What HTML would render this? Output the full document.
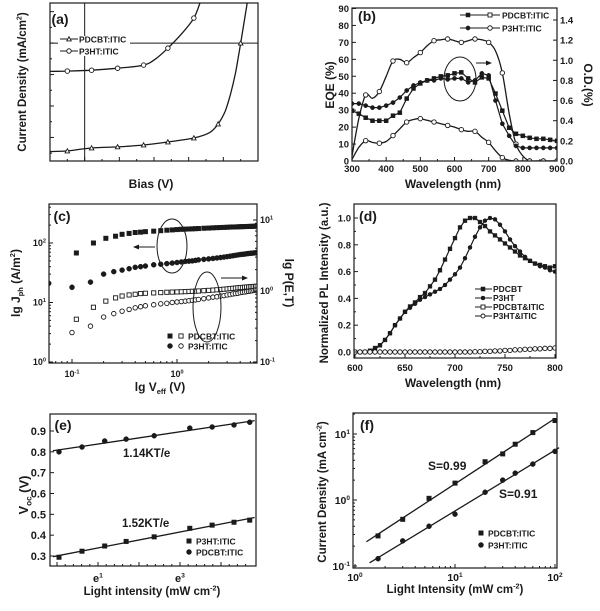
<!DOCTYPE html>
<html><head><meta charset="utf-8"><style>
html,body{margin:0;padding:0;background:#fff}
svg{display:block;font-family:"Liberation Sans",Arial,sans-serif;font-weight:bold}
</style></head><body>
<svg id="fig" xmlns="http://www.w3.org/2000/svg" width="600" height="611" viewBox="0 0 600 611"></svg>
<script>
// ---------- DATA ----------
// (a) J-V
const aBiasLineP3 = [-0.2,-0.1,0.04,0.19,0.34,0.41,0.48,0.56,0.63,0.67];
const aJLineP3    = [-3.6,-3.56,-3.45,-3.2,-2.8,-2.0,-0.64,1.2,3.18,5.4];
const aBiasMarkP3 = [-0.1,0.04,0.19,0.34,0.48,0.63];
const aJMarkP3    = [-3.56,-3.45,-3.2,-2.8,-0.64,3.18];
const aBiasLinePD = [-0.2,-0.1,0.04,0.19,0.34,0.48,0.63,0.72,0.77,0.81,0.84,0.87,0.9,0.94];
const aJLinePD    = [-13.8,-13.72,-13.34,-13.2,-12.96,-12.58,-12.07,-11.4,-10.29,-8.7,-6.6,-3.8,0,5.4];
const aBiasMarkPD = [-0.1,0.04,0.19,0.34,0.48,0.63,0.77,0.9];
const aJMarkPD    = [-13.72,-13.34,-13.2,-12.96,-12.58,-12.07,-10.29,0];
// (b) EQE / OD
const bWl   = [300,320,340,360,380,400,420,440,460,480,500,520,540,560,580,600,620,640,660,680,700,720,740,760,780,800,820,840,860,880,900];
const bEqePD= [3,25,39,37,41,50,59,60,58,61,64,68,71,71.5,72,71,70,71,72,71.5,70,65,52,28,10,3,0,0,0,0,0];
const bEqeP3= [1,8,12,11,10.5,11.5,15,19,23,24.5,25,24,23,22,21,20,18.5,17.5,17.5,14,11,6,2,0.5,0,0,0,0,0,0,0];
const bOdPD = [0.5,0.47,0.43,0.4,0.4,0.4,0.45,0.48,0.62,0.72,0.77,0.8,0.82,0.84,0.85,0.87,0.88,0.82,0.78,0.83,0.82,0.67,0.5,0.33,0.27,0.25,0.23,0.22,0.22,0.21,0.2];
const bOdP3 = [0.57,0.57,0.55,0.53,0.53,0.55,0.58,0.63,0.7,0.75,0.78,0.8,0.8,0.82,0.81,0.82,0.82,0.78,0.8,0.87,0.85,0.6,0.37,0.25,0.15,0.13,0.13,0.13,0.13,0.13,0.13];
// (c) Jph / P(E,T)
const cV    = [0.06,0.1,0.11,0.15,0.16,0.2,0.21,0.25,0.26,0.3,0.35,0.4,0.45,0.5,0.6,0.7,0.8,0.9,1.0,1.1,1.2,1.3,1.4,1.5,1.6,1.8,2.0,2.2,2.4,2.6,2.8,3.0,3.2,3.4,3.6,3.8,4.0,4.2,4.4,4.6,4.8,5.0,5.2,5.4,5.6,5.8];
const cJPD  = [null,null,68,null,100,null,120,null,130,140,145,150,152,155,158,161,164,166,168,170,171,172,173,174,175,177,178,180,181,182,183,184,185,186,186,187,188,188,189,189,190,190,191,191,192,192];
const cJP3  = [21,18,null,22,null,30,null,33,null,35,37,39,40,41,43,44,45,46,47,48,49,49.5,50,51,52,53,54,55,56,57,58,59,60,61,62,63,64,64.5,65,66,66.5,67,67.5,68,68.5,69];
const cPPD  = [null,null,0.40,null,0.59,null,0.72,null,0.8,0.85,0.88,0.9,0.92,0.93,0.94,0.95,0.96,0.965,0.97,0.975,0.98,0.985,0.99,0.995,1.0,1.01,1.02,1.03,1.04,1.05,1.06,1.07,1.08,1.09,1.1,1.11,1.12,1.12,1.13,1.14,1.14,1.15,1.15,1.16,1.16,1.17];
const cPP3  = [null,0.26,null,0.32,null,0.43,null,0.48,null,0.52,0.55,0.58,0.6,0.62,0.64,0.66,0.67,0.69,0.70,0.71,0.72,0.73,0.74,0.75,0.76,0.78,0.8,0.82,0.83,0.85,0.86,0.88,0.89,0.91,0.92,0.93,0.95,0.96,0.97,0.98,0.99,1.0,1.01,1.02,1.03,1.03];
// (d) PL
const dWl = [600,605,610,615,620,625,630,635,640,645,650,655,660,665,670,675,680,685,690,695,700,705,710,715,720,725,730,735,740,745,750,755,760,765,770,775,780,785,790,795,800];
const dPD = [0,0,0,0.01,0.03,0.05,0.09,0.14,0.2,0.25,0.3,0.34,0.37,0.41,0.44,0.49,0.54,0.61,0.69,0.77,0.85,0.93,0.98,1.0,1.0,0.97,0.94,0.9,0.87,0.84,0.81,0.78,0.75,0.72,0.7,0.68,0.66,0.65,0.64,0.63,0.64];
const dP3 = [0,0,0,0.01,0.02,0.05,0.09,0.14,0.2,0.25,0.3,0.33,0.36,0.39,0.41,0.43,0.45,0.47,0.5,0.54,0.58,0.63,0.7,0.78,0.86,0.93,0.98,1.0,0.99,0.95,0.9,0.84,0.79,0.75,0.71,0.68,0.66,0.64,0.63,0.61,0.6];
const dBlendWl = [600,610,620,630,640,650,660,670,680,690,700,710,720,730,740,750,760,770,780,790,800];
const dBlend   = [0,0,0,0,0,0,0,0,0,0,0,0,0.002,0.005,0.008,0.012,0.016,0.02,0.024,0.027,0.03];
// (e) Voc vs light
const eI    = [1.05,1.84,3.2,5.4,10.7,25.5,44,75,110];
const eVPD  = [0.80,0.823,0.852,0.861,0.877,0.914,0.919,0.929,0.942];
const eVP3  = [0.294,0.323,0.348,0.37,0.392,0.433,0.448,0.462,0.472];
const eYTicks = [0.3,0.4,0.5,0.6,0.7,0.8,0.9];
// (f) Jsc vs light
const fI    = [1.7,3,5.5,10,20,30,40,60,100];
const fJPD  = [0.286,0.51,1.06,1.8,3.8,5.0,7.0,10.5,16];
const fJP3  = [0.129,0.24,0.40,0.61,1.31,2.0,2.55,3.5,5.45];

// ---------- HELPERS ----------
const NS='http://www.w3.org/2000/svg';
const svg=document.getElementById('fig');
function el(tag,attrs,parent,name){
  const e=document.createElementNS(NS,tag);
  for(const k in attrs) e.setAttribute(k,attrs[k]);
  
  
  (parent||svg).appendChild(e); return e;
}
const lin=(d0,d1,r0,r1)=>v=>r0+(v-d0)/(d1-d0)*(r1-r0);
const lg=(d0,d1,r0,r1)=>{const a=Math.log10(d0),b=Math.log10(d1);return v=>r0+(Math.log10(v)-a)/(b-a)*(r1-r0);};
const C='#1a1a1a';
function frame(p,name){
  return el('rect',{x:p.x0,y:p.y0,width:p.x1-p.x0,height:p.y1-p.y0,fill:'none',stroke:C,'stroke-width':1.2},svg,name);
}
function clip(p,id){
  const cp=el('clipPath',{id:id},svg,id);
  el('rect',{x:p.x0,y:p.y0,width:p.x1-p.x0,height:p.y1-p.y0},cp,id+'-rect');
  return 'url(#'+id+')';
}
function tick(x1,y1,x2,y2,g,name){el('line',{x1,y1,x2,y2,stroke:C,'stroke-width':1},g,name);}
function txt(x,y,s,size,anchor,g,name,rot){
  const a={x,y,'font-size':size,'text-anchor':anchor||'middle',fill:C};
  if(rot) a.transform='rotate('+rot+' '+x+' '+y+')';
  const t=el('text',a,g,name); t.textContent=s; return t;
}
function rich(x,y,parts,size,anchor,g,name,rot){
  const a={x,y,'font-size':size,'text-anchor':anchor||'middle',fill:C};
  if(rot) a.transform='rotate('+rot+' '+x+' '+y+')';
  const t=el('text',a,g,name);
  parts.forEach(p=>{
    const s=el('tspan',{},t,name+'-part');
    if(p[1]==='sup'){s.setAttribute('font-size',size*0.62);s.setAttribute('dy',-size*0.4);}
    else if(p[1]==='sub'){s.setAttribute('font-size',size*0.62);s.setAttribute('dy',size*0.25);}
    else if(p[1]==='back'){s.setAttribute('dy',p[2]);}
    s.textContent=p[0];
  });
  return t;
}
function pow10(x,y,e,size,anchor,g,name){
  return rich(x,y,[['10'],[String(e),'sup']],size,anchor,g,name);
}
function marker(type,x,y,s,g,name){
  const open=type.startsWith('open');
  const fill=open?'#fff':C;
  const base=type.replace('open-','');
  if(base==='square') return el('rect',{x:x-s/2,y:y-s/2,width:s,height:s,fill,stroke:C,'stroke-width':open?0.9:0.5},g,name);
  if(base==='circle') return el('circle',{cx:x,cy:y,r:s/2,fill,stroke:C,'stroke-width':open?0.9:0.5},g,name);
  if(base==='triangle') return el('polygon',{points:`${x},${y-s/2} ${x-s/2},${y+s/2.3} ${x+s/2},${y+s/2.3}`,fill,stroke:C,'stroke-width':0.9},g,name);
}
function smooth(pts){
  let d='M'+pts[0][0].toFixed(1)+','+pts[0][1].toFixed(1);
  for(let i=0;i<pts.length-1;i++){
    const p0=pts[i-1]||pts[i],p1=pts[i],p2=pts[i+1],p3=pts[i+2]||pts[i+1];
    const c1=[p1[0]+(p2[0]-p0[0])/6,p1[1]+(p2[1]-p0[1])/6];
    const c2=[p2[0]-(p3[0]-p1[0])/6,p2[1]-(p3[1]-p1[1])/6];
    d+=` C${c1[0].toFixed(1)},${c1[1].toFixed(1)} ${c2[0].toFixed(1)},${c2[1].toFixed(1)} ${p2[0].toFixed(1)},${p2[1].toFixed(1)}`;
  }
  return d;
}
function curve(xs,ys,sx,sy,g,name,w){
  const pts=[];xs.forEach((v,i)=>{if(ys[i]!=null)pts.push([sx(v),sy(ys[i])]);});
  return el('path',{d:smooth(pts),fill:'none',stroke:C,'stroke-width':w||1.3},g,name);
}
function polyl(xs,ys,sx,sy,g,name,w){
  const pts=[];xs.forEach((v,i)=>{if(ys[i]!=null)pts.push(sx(v).toFixed(1)+','+sy(ys[i]).toFixed(1));});
  return el('polyline',{points:pts.join(' '),fill:'none',stroke:C,'stroke-width':w||1.2},g,name);
}
function marks(type,xs,ys,sx,sy,s,g,name){
  xs.forEach((v,i)=>{if(ys[i]!=null)marker(type,sx(v),sy(ys[i]),s,g,name);});
}
function logMinor(d0,d1,fn){
  for(let e=Math.floor(Math.log10(d0));e<=Math.ceil(Math.log10(d1));e++)
    for(let m=1;m<10;m++){const v=m*Math.pow(10,e);if(v>=d0&&v<=d1)fn(v,m===1);}
}

// ---------- PANEL A ----------
(function(){
  const P={x0:50,y0:3,x1:258,y1:161};
  const g=el('g',{},svg,'panel-a');
  const sx=lin(-0.2,1.0,P.x0,P.x1), sy=lin(-15,5.1,P.y1,P.y0);
  const cl=clip(P,'clip-a');
  const gg=el('g',{'clip-path':cl},g,'panel-a-plot');
  tick(sx(0),P.y0,sx(0),P.y1,gg,'zero-bias-line');
  tick(P.x0,sy(0),P.x1,sy(0),gg,'zero-current-line');
  for(let v=-0.2;v<=1.0001;v+=0.1){const x=sx(v);tick(x,P.y1,x,P.y1-(Math.round(v*10)%2===0?4:2),g,'x-tick');}
  for(let v=-14;v<=4;v+=2){const y=sy(v);tick(P.x0,y,P.x0+(v%4===0?4:2),y,g,'y-tick');}
  curve(aBiasLineP3,aJLineP3,sx,sy,gg,'p3ht-jv-curve');
  curve(aBiasLinePD,aJLinePD,sx,sy,gg,'pdcbt-jv-curve');
  marks('open-circle',aBiasMarkP3,aJMarkP3,sx,sy,4.5,gg,'p3ht-jv-point');
  marks('open-triangle',aBiasMarkPD,aJMarkPD,sx,sy,4.5,gg,'pdcbt-jv-point');
  frame(P,'panel-a-frame');
  el('rect',{x:58,y:36,width:72,height:20,fill:'#fff'},g,'legend-a-bg');
  tick(60,39,78,39,g,'legend-a-line');marker('open-triangle',69,39,4.5,g,'legend-a-marker');
  txt(79,42.5,'PDCBT:ITIC',8.5,'start',g,'legend-a-pdcbt');
  tick(60,51,78,51,g,'legend-a-line');marker('open-circle',69,51,4.5,g,'legend-a-marker');
  txt(79,54.5,'P3HT:ITIC',8.5,'start',g,'legend-a-p3ht');
  txt(60,24,'(a)',14,'middle',g,'panel-a-label');
  txt(151,188,'Bias (V)',12,'middle',g,'x-axis-title-a');
  rich(26,82,[['Current Density (mA/cm'],['2','sup'],[')','back',4.5]],11.5,'middle',g,'y-axis-title-a',-90);
})();

// ---------- PANEL B ----------
(function(){
  const P={x0:352,y0:8,x1:557,y1:161};
  const g=el('g',{},svg,'panel-b');
  const sx=lin(300,900,P.x0,P.x1), syL=lin(0,90,P.y1,P.y0+0.5), syR=lin(0,1.4,P.y1,20);
  const cl=clip(P,'clip-b');
  const gg=el('g',{'clip-path':cl},g,'panel-b-plot');
  for(let v=300;v<=900;v+=50){tick(sx(v),P.y1,sx(v),P.y1-(v%100===0?4:2),g,'x-tick');if(v%100===0)txt(sx(v),172,String(v),9.5,'middle',g,'x-tick-label');}
  for(let v=0;v<=90;v+=10){tick(P.x0,syL(v),P.x0+4,syL(v),g,'y-left-tick');txt(P.x0-3,syL(v)+3.5,String(v),9.5,'end',g,'y-left-tick-label');}
  for(let v=0;v<=1.4001;v+=0.2){tick(P.x1,syR(v),P.x1-4,syR(v),g,'y-right-tick');txt(P.x1+3,syR(v)+3.5,v.toFixed(1),9.5,'start',g,'y-right-tick-label');}
  curve(bWl,bEqePD,sx,syL,gg,'pdcbt-eqe-curve');
  curve(bWl,bEqeP3,sx,syL,gg,'p3ht-eqe-curve');
  polyl(bWl,bOdPD,sx,syR,gg,'pdcbt-od-curve');
  polyl(bWl,bOdP3,sx,syR,gg,'p3ht-od-curve');
  const mk=bWl.map((v,i)=>(v-340)%40===0&&v>=340);
  marks('open-circle',bWl.filter((v,i)=>mk[i]),bEqePD.filter((v,i)=>mk[i]),sx,syL,4.5,gg,'pdcbt-eqe-point');
  marks('open-circle',bWl.filter((v,i)=>mk[i]),bEqeP3.filter((v,i)=>mk[i]),sx,syL,4.5,gg,'p3ht-eqe-point');
  marks('square',bWl,bOdPD,sx,syR,4,gg,'pdcbt-od-point');
  marks('circle',bWl,bOdP3,sx,syR,4.2,gg,'p3ht-od-point');
  frame(P,'panel-b-frame');
  el('ellipse',{cx:460,cy:79,rx:16,ry:22,fill:'none',stroke:C,'stroke-width':1},g,'od-ellipse');
  tick(476,63,488,63,g,'od-arrow');
  el('polygon',{points:'492,63 486,60.5 486,65.5',fill:C},g,'od-arrow-head');
  tick(460,15,500,15,g,'legend-b-line');marker('square',468,15,4,g,'legend-b-marker');marker('open-square',490,15,4,g,'legend-b-marker');
  txt(502,18.5,'PDCBT:ITIC',8.5,'start',g,'legend-b-pdcbt');
  tick(460,28,500,28,g,'legend-b-line');marker('circle',468,28,4.2,g,'legend-b-marker');marker('open-circle',490,28,4.5,g,'legend-b-marker');
  txt(502,31.5,'P3HT:ITIC',8.5,'start',g,'legend-b-p3ht');
  txt(367,21,'(b)',14,'middle',g,'panel-b-label');
  txt(453,188,'Wavelength (nm)',12,'middle',g,'x-axis-title-b');
  txt(334,85,'EQE (%)',12,'middle',g,'y-left-title-b',-90);
  txt(584,85,'O.D.(%)',12,'middle',g,'y-right-title-b',90);
})();

// ---------- PANEL C ----------
(function(){
  const P={x0:49,y0:204,x1:257,y1:363};
  const g=el('g',{},svg,'panel-c');
  const sx=lg(0.1,1,72,177), syL=lg(1,100,362,243), syR=lg(0.1,10,362,220);
  const cl=clip(P,'clip-c');
  const gg=el('g',{'clip-path':cl},g,'panel-c-plot');
  logMinor(0.06,5.8,(v,maj)=>{const x=sx(v);if(x>=P.x0&&x<=P.x1)tick(x,P.y1,x,P.y1-(maj?4:2),g,'x-tick');});
  logMinor(1,440,(v,maj)=>{const y=syL(v);if(y>=P.y0)tick(P.x0,y,P.x0+(maj?4:2),y,g,'y-left-tick');});
  logMinor(0.1,16,(v,maj)=>{const y=syR(v);if(y>=P.y0)tick(P.x1,y,P.x1-(maj?4:2),y,g,'y-right-tick');});
  [[0.1,-1],[1,0]].forEach(a=>pow10(sx(a[0]),377,a[1],9,'middle',g,'x-tick-label'));
  [[1,0],[10,1],[100,2]].forEach(a=>pow10(P.x0-3,syL(a[0])+3,a[1],9,'end',g,'y-left-tick-label'));
  [[0.1,-1],[1,0],[10,1]].forEach(a=>pow10(P.x1+3,syR(a[0])+3,a[1],9,'start',g,'y-right-tick-label'));
  marks('square',cV,cJPD,sx,syL,4.5,gg,'pdcbt-jph-point');
  marks('circle',cV,cJP3,sx,syL,5,gg,'p3ht-jph-point');
  marks('open-square',cV,cPPD,sx,syR,4.2,gg,'pdcbt-pet-point');
  marks('open-circle',cV,cPP3,sx,syR,4.5,gg,'p3ht-pet-point');
  frame(P,'panel-c-frame');
  el('ellipse',{cx:172,cy:246,rx:15,ry:27,fill:'none',stroke:C,'stroke-width':1},g,'jph-ellipse');
  tick(155,247,138,247,g,'jph-arrow');
  el('polygon',{points:'133,247 139,244.5 139,249.5',fill:C},g,'jph-arrow-head');
  el('ellipse',{cx:207,cy:307,rx:14,ry:35,fill:'none',stroke:C,'stroke-width':1},g,'pet-ellipse');
  tick(221,278,243,278,g,'pet-arrow');
  el('polygon',{points:'248,278 242,275.5 242,280.5',fill:C},g,'pet-arrow-head');
  marker('square',170,336,4.5,g,'legend-c-marker');marker('open-square',181,336,4.2,g,'legend-c-marker');
  txt(188,339.5,'PDCBT:ITIC',8.5,'start',g,'legend-c-pdcbt');
  marker('circle',170,346,5,g,'legend-c-marker');marker('open-circle',181,346,4.5,g,'legend-c-marker');
  txt(188,349.5,'P3HT:ITIC',8.5,'start',g,'legend-c-p3ht');
  txt(62,221,'(c)',14,'middle',g,'panel-c-label');
  rich(160,391,[['lg V'],['eff','sub'],[' (V)','back',-3]],12,'middle',g,'x-axis-title-c');
  rich(20,283,[['lg J'],['ph','sub'],[' (A/m','back',-3],['2','sup'],[')','back',4.5]],12,'middle',g,'y-left-title-c',-90);
  txt(285,283,'lg P(E,T)',12,'middle',g,'y-right-title-c',90);
})();

// ---------- PANEL D ----------
(function(){
  const P={x0:354,y0:204,x1:556,y1:358};
  const g=el('g',{},svg,'panel-d');
  const sx=lin(600,800,355,555), sy=lin(0,1,352,218);
  const cl=clip(P,'clip-d');
  const gg=el('g',{'clip-path':cl},g,'panel-d-plot');
  for(let v=600;v<=800;v+=25){tick(sx(v),P.y1,sx(v),P.y1-(v%50===0?4:2),g,'x-tick');if(v%50===0)txt(sx(v),371,String(v),9.5,'middle',g,'x-tick-label');}
  for(let v=0;v<=1.0001;v+=0.1){const y=sy(v);const maj=Math.round(v*10)%2===0;tick(P.x0,y,P.x0+(maj?4:2),y,g,'y-tick');if(maj)txt(P.x0-3,y+3.5,v.toFixed(1),9.5,'end',g,'y-tick-label');}
  polyl(dWl,dPD,sx,sy,gg,'pdcbt-pl-curve');
  polyl(dWl,dP3,sx,sy,gg,'p3ht-pl-curve');
  marks('square',dWl,dPD,sx,sy,3.8,gg,'pdcbt-pl-point');
  marks('circle',dWl,dP3,sx,sy,4,gg,'p3ht-pl-point');
  marks('open-circle',dBlendWl,dBlend,sx,sy,4.5,gg,'p3ht-itic-pl-point');
  marks('open-circle',dBlendWl.map(v=>v+5),dBlend,sx,sy,4.5,gg,'pdcbt-itic-pl-point');
  frame(P,'panel-d-frame');
  const leg=[['square','PDCBT',289],['circle','P3HT',298],['open-square','PDCBT&ITIC',307],['open-circle','P3HT&ITIC',316]];
  leg.forEach(l=>{tick(475,l[2],492,l[2],g,'legend-d-line');marker(l[0],483,l[2],4,g,'legend-d-marker');txt(493,l[2]+3,l[1],8.5,'start',g,'legend-d-entry');});
  txt(368,221,'(d)',14,'middle',g,'panel-d-label');
  txt(453,387,'Wavelength (nm)',12,'middle',g,'x-axis-title-d');
  txt(328,283,'Normalized PL Intensity (a.u.)',11.5,'middle',g,'y-axis-title-d',-90);
})();

// ---------- PANEL E ----------
(function(){
  const P={x0:50,y0:414,x1:256,y1:566};
  const g=el('g',{},svg,'panel-e');
  const sx=v=>98+(Math.log(v)-1)*41, sy=lin(0.3,0.9,556,431);
  for(let l=0;l<=4.8;l+=0.2){const x=98+(l-1)*41;const maj=Math.abs(l-Math.round(l))<0.01;tick(x,P.y1,x,P.y1-(maj?4:2),g,'x-tick');}
  rich(98,582,[['e'],['1','sup']],11,'middle',g,'x-tick-label');
  rich(180,582,[['e'],['3','sup']],11,'middle',g,'x-tick-label');
  eYTicks.forEach(v=>{tick(P.x0,sy(v),P.x0+4,sy(v),g,'y-tick');txt(P.x0-4,sy(v)+4,v.toFixed(1),11,'end',g,'y-tick-label');});
  function fit(xs,ys){const X=xs.map(Math.log);const n=X.length;const mx=X.reduce((a,b)=>a+b)/n,my=ys.reduce((a,b)=>a+b)/n;let sxy=0,sxx=0;X.forEach((x,i)=>{sxy+=(x-mx)*(ys[i]-my);sxx+=(x-mx)**2;});const b=sxy/sxx;return v=>my+b*(Math.log(v)-mx);}
  const f1=fit(eI,eVPD),f2=fit(eI,eVP3);
  const lo=Math.exp(-0.1),hi=Math.exp(4.82);
  el('line',{x1:sx(lo),y1:sy(f1(lo)),x2:sx(hi),y2:sy(f1(hi)),stroke:C,'stroke-width':1.3},g,'pdcbt-fit-line');
  el('line',{x1:sx(lo),y1:sy(f2(lo)),x2:sx(hi),y2:sy(f2(hi)),stroke:C,'stroke-width':1.3},g,'p3ht-fit-line');
  marks('circle',eI,eVPD,sx,sy,5,g,'pdcbt-voc-point');
  marks('square',eI,eVP3,sx,sy,4.5,g,'p3ht-voc-point');
  frame(P,'panel-e-frame');
  txt(123,457,'1.14KT/e',11.5,'start',g,'slope-label-pdcbt');
  txt(122,527,'1.52KT/e',11.5,'start',g,'slope-label-p3ht');
  marker('square',189,541,4.5,g,'legend-e-marker');txt(196,544.5,'P3HT:ITIC',8.5,'start',g,'legend-e-p3ht');
  marker('circle',189,552,5,g,'legend-e-marker');txt(196,555.5,'PDCBT:ITIC',8.5,'start',g,'legend-e-pdcbt');
  txt(63,430,'(e)',14,'middle',g,'panel-e-label');
  rich(152,595,[['Light intensity (mW cm'],['-2','sup'],[')','back',4.5]],11.5,'middle',g,'x-axis-title-e');
  rich(28,495,[['V'],['oc','sub'],[' (V)','back',-3]],13,'middle',g,'y-axis-title-e',-90);
})();

// ---------- PANEL F ----------
(function(){
  const P={x0:353,y0:413,x1:557,y1:568};
  const g=el('g',{},svg,'panel-f');
  const sx=lg(1,100,355,555), sy=lg(0.1,10,566,434);
  logMinor(1,100,(v,maj)=>{tick(sx(v),P.y1,sx(v),P.y1-(maj?4:2),g,'x-tick');});
  logMinor(0.1,20,(v,maj)=>{const y=sy(v);if(y>=P.y0)tick(P.x0,y,P.x0+(maj?4:2),y,g,'y-tick');});
  [[1,0],[10,1],[100,2]].forEach(a=>pow10(sx(a[0]),581,a[1],10.5,'middle',g,'x-tick-label'));
  [[0.1,-1],[1,0],[10,1]].forEach(a=>pow10(P.x0-3,sy(a[0])+4,a[1],10.5,'end',g,'y-tick-label'));
  function fit(xs,ys){const X=xs.map(Math.log10),Y=ys.map(Math.log10);const n=X.length;const mx=X.reduce((a,b)=>a+b)/n,my=Y.reduce((a,b)=>a+b)/n;let sxy=0,sxx=0;X.forEach((x,i)=>{sxy+=(x-mx)*(Y[i]-my);sxx+=(x-mx)**2;});const b=sxy/sxx;return v=>Math.pow(10,my+b*(Math.log10(v)-mx));}
  const f1=fit(fI,fJPD),f2=fit(fI,fJP3);
  el('line',{x1:sx(1.3),y1:sy(f1(1.3)),x2:sx(100),y2:sy(f1(100)),stroke:C,'stroke-width':1.3},g,'pdcbt-fit-line');
  el('line',{x1:sx(1.4),y1:sy(f2(1.4)),x2:sx(110),y2:sy(f2(110)),stroke:C,'stroke-width':1.3},g,'p3ht-fit-line');
  marks('square',fI,fJPD,sx,sy,4.5,g,'pdcbt-jsc-point');
  marks('circle',fI,fJP3,sx,sy,5,g,'p3ht-jsc-point');
  frame(P,'panel-f-frame');
  txt(428,470,'S=0.99',12,'start',g,'slope-label-pdcbt');
  txt(499,498,'S=0.91',12,'start',g,'slope-label-p3ht');
  marker('square',481,533,4.5,g,'legend-f-marker');txt(488,536.5,'PDCBT:ITIC',8.5,'start',g,'legend-f-pdcbt');
  marker('circle',481,545,5,g,'legend-f-marker');txt(488,548.5,'P3HT:ITIC',8.5,'start',g,'legend-f-p3ht');
  txt(367,430,'(f)',14,'middle',g,'panel-f-label');
  rich(455,593,[['Light Intensity (mW cm'],['-2','sup'],[')','back',4.5]],11.5,'middle',g,'x-axis-title-f');
  rich(326,492,[['Current Density (mA cm'],['-2','sup'],[')','back',4.5]],11.5,'middle',g,'y-axis-title-f',-90);
})();
</script>
</body></html>
